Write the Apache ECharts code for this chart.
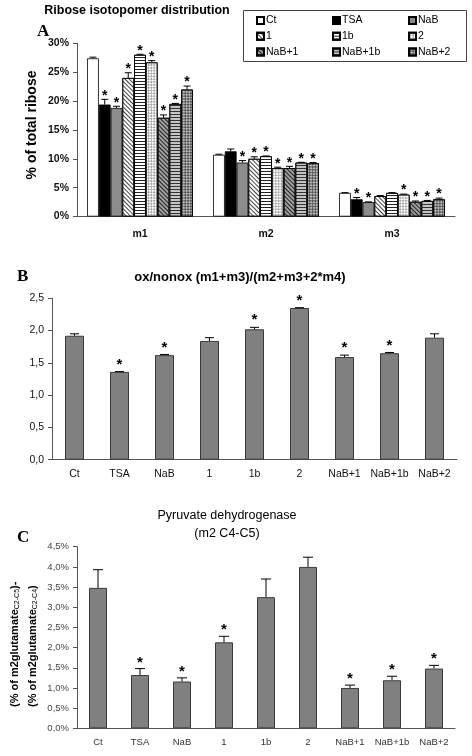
<!DOCTYPE html>
<html><head><meta charset="utf-8">
<script src="https://cdn.jsdelivr.net/npm/echarts@6/dist/echarts.min.js"></script>
<style>html,body{margin:0;padding:0;background:#fff}#c{width:472px;height:756px}</style>
</head><body><div id="c"></div>
<script>
// ---------- DATA ----------
const conditions = ['Ct','TSA','NaB','1','1b','2','NaB+1','NaB+1b','NaB+2'];
// Panel A: ribose isotopomers (% of total ribose), per condition [m1, m2, m3]
const ribCats = ['m1','m2','m3'];
const ribCt     = [27.4, 10.7, 4.1];
const ribTSA    = [19.4, 11.3, 3.0];
const ribNaB    = [18.8, 9.35, 2.5];
const rib1      = [24.0, 10.0, 3.55];
const rib1b     = [28.0, 10.45, 4.1];
const rib2      = [26.7, 8.4, 3.8];
const ribNaB1   = [17.1, 8.4, 2.55];
const ribNaB1b  = [19.5, 9.35, 2.7];
const ribNaB2   = [22.0, 9.25, 3.0];
const errCt     = [0.2, 0.1, 0.05];
const errTSA    = [0.9, 0.4, 0.3];
const errNaB    = [0.3, 0.35, 0.05];
const err1      = [0.9, 0.35, 0.1];
const err1b     = [0.1, 0.05, 0.05];
const err2      = [0.3, 0.15, 0.1];
const errNaB1   = [0.5, 0.3, 0.15];
const errNaB1b  = [0.1, 0.05, 0.1];
const errNaB2   = [0.6, 0.1, 0.2];
const starM1 = [0,1,1,1,1,1,1,1,1];
const starM2 = [0,0,1,1,1,1,1,1,1];
const starM3 = [0,1,1,0,0,1,1,1,1];
const ribTicks = [0,5,10,15,20,25,30];
// Panel B: ox/nonox ratio
const oxVals  = [1.92, 1.36, 1.62, 1.84, 2.02, 2.35, 1.59, 1.65, 1.89];
const oxErr   = [0.03, 0.005, 0.01, 0.05, 0.03, 0.005, 0.03, 0.01, 0.06];
const oxStar  = [0,1,1,0,1,1,1,1,0];
const oxTicks = [0,0.5,1,1.5,2,2.5];
// Panel C: pyruvate dehydrogenase (%)
const pdhVals = [3.48, 1.32, 1.16, 2.13, 3.25, 4.0, 1.0, 1.19, 1.48];
const pdhErr  = [0.45, 0.16, 0.09, 0.15, 0.45, 0.24, 0.07, 0.1, 0.08];
const pdhStar = [0,1,1,1,0,0,1,1,1];
const pdhTicks = [0,0.5,1,1.5,2,2.5,3,3.5,4,4.5];

// ---------- BUILD ----------
const ribVals = [ribCt, ribTSA, ribNaB, rib1, rib1b, rib2, ribNaB1, ribNaB1b, ribNaB2];
const ribErrs = [errCt, errTSA, errNaB, err1, err1b, err2, errNaB1, errNaB1b, errNaB2];
const ribStars = [starM1, starM2, starM3];

const FONT = "'Liberation Sans', Arial, sans-serif";
const diagBack = Math.PI/4;
const styles = [
  {color:'#ffffff'},
  {color:'#000000'},
  {color:'#8c8c8c'},
  {color:'#ffffff', decal:{symbol:'rect',symbolSize:1,dashArrayX:[1,0],dashArrayY:[1,2],rotation:diagBack,color:'#444'}},
  {color:'#ffffff', decal:{symbol:'rect',symbolSize:1,dashArrayX:[1,0],dashArrayY:[1,2],rotation:0,color:'#222'}},
  {color:'#ffffff', decal:{symbol:'rect',symbolSize:1,dashArrayX:[[2,2],[0,2,2,0]],dashArrayY:[2,0],rotation:Math.PI/4,color:'#a8a8a8'}},
  {color:'#a0a0a0', decal:{symbol:'rect',symbolSize:1,dashArrayX:[1,0],dashArrayY:[1,2],rotation:diagBack,color:'#222'}},
  {color:'#c4c4c4', decal:{symbol:'rect',symbolSize:1,dashArrayX:[1,0],dashArrayY:[1,2],rotation:0,color:'#333'}},
  {color:'#b8b8b8', decal:{symbol:'rect',symbolSize:1,dashArrayX:[[2,2],[0,2,2,0]],dashArrayY:[2,0],rotation:Math.PI/4,color:'#505050'}}
];
const GAP = 0.16;

const series = [];
conditions.forEach((name, si) => {
  series.push({
    type:'bar', name, xAxisIndex:0, yAxisIndex:0,
    data: ribVals[si], barGap:'0%', barCategoryGap:(GAP*100)+'%',
    itemStyle: Object.assign({borderColor:'#000', borderWidth:0.8}, styles[si]),
    silent:true
  });
});
conditions.forEach((name, si) => {
  series.push({
    type:'custom', xAxisIndex:0, yAxisIndex:0, z:5, silent:true,
    data: ribCats.map((c,k)=>[k, ribVals[si][k], ribErrs[si][k], ribStars[k][si]]),
    renderItem(params, api){
      const k = api.value(0), v = api.value(1), e = api.value(2), s = api.value(3);
      const band = api.size([1,0])[0];
      const total = band*(1-GAP);
      const bw = total/9;
      const base = api.coord([k, 0]);
      const cx = base[0] - total/2 + bw*(si+0.5);
      const top = api.coord([k, v])[1];
      const et = api.coord([k, v+e])[1];
      const ch = [
        {type:'line', shape:{x1:cx,y1:top,x2:cx,y2:et}, style:{stroke:'#000',lineWidth:1}},
        {type:'line', shape:{x1:cx-3.5,y1:et,x2:cx+3.5,y2:et}, style:{stroke:'#000',lineWidth:1}}
      ];
      if (s) ch.push({type:'text', x:cx, y:et-3.5, style:{text:'*', font:'bold 14px '+FONT, fill:'#000', align:'center', verticalAlign:'middle'}});
      return {type:'group', children:ch};
    }
  });
});

function singlePanel(idx, vals, errs, stars, bw, cap, gapStar){
  series.push({
    type:'bar', name:'p'+idx, xAxisIndex:idx, yAxisIndex:idx, data:vals, barWidth:bw, silent:true,
    itemStyle:{color:'#808080', borderColor:'#3a3a3a', borderWidth:1}
  });
  series.push({
    type:'custom', xAxisIndex:idx, yAxisIndex:idx, z:5, silent:true,
    data: conditions.map((c,k)=>[k, vals[k], errs[k], stars[k]]),
    renderItem(params, api){
      const k = api.value(0), v = api.value(1), e = api.value(2), s = api.value(3);
      const p = api.coord([k, v]);
      const et = api.coord([k, v+e])[1];
      const ch = [
        {type:'line', shape:{x1:p[0],y1:p[1],x2:p[0],y2:et}, style:{stroke:'#000',lineWidth:1}},
        {type:'line', shape:{x1:p[0]-cap/2,y1:et,x2:p[0]+cap/2,y2:et}, style:{stroke:'#000',lineWidth:1}}
      ];
      if (s) ch.push({type:'text', x:p[0], y:et-gapStar, style:{text:'*', font:'bold 15px '+FONT, fill:'#000', align:'center', verticalAlign:'middle'}});
      return {type:'group', children:ch};
    }
  });
}
singlePanel(1, oxVals, oxErr, oxStar, 19, 9, 7);
singlePanel(2, pdhVals, pdhErr, pdhStar, 18, 10, 6);

const comma = v => String(v.toFixed(1)).replace('.', ',');
const axisLine = {lineStyle:{color:'#555', width:1}};

const legendCols = [[0,3,6],[1,4,7],[2,5,8]];
const legendX = [251, 327, 403];
const legends = legendCols.map((col, i) => ({
  data: col.map(j => conditions[j]), orient:'vertical', left:legendX[i], top:10,
  itemWidth:7, itemHeight:7, itemGap:4.7, selectedMode:false, icon:'rect',
  textStyle:{fontSize:10.5, fontFamily:FONT, color:'#000', padding:[0,0,0,-3]}
}));

const option = {
  animation:false,
  backgroundColor:'#fff',
  legend: legends,
  grid:[
    {left:77, top:43.3, width:378, height:173.3},
    {left:52, top:298.3, width:405, height:161.4},
    {left:77, top:546.7, width:378, height:181.6}
  ],
  xAxis:[
    {type:'category', gridIndex:0, data:ribCats, axisLine, axisTick:{lineStyle:{color:'#555'}, length:5},
     axisLabel:{fontSize:10.5, fontWeight:'bold', color:'#111', fontFamily:FONT, margin:12}},
    {type:'category', gridIndex:1, data:conditions, axisLine, axisTick:{lineStyle:{color:'#555'}, length:4},
     axisLabel:{interval:0, fontSize:10.5, color:'#111', fontFamily:FONT, margin:9}},
    {type:'category', gridIndex:2, data:conditions, axisLine, axisTick:{lineStyle:{color:'#555'}, length:4},
     axisLabel:{interval:0, fontSize:9.5, color:'#333', fontFamily:FONT, margin:9}}
  ],
  yAxis:[
    {type:'value', gridIndex:0, min:ribTicks[0], max:ribTicks[ribTicks.length-1], interval:ribTicks[1]-ribTicks[0],
     splitLine:{show:false}, axisLine:{show:true, lineStyle:{color:'#555'}}, axisTick:{show:true, lineStyle:{color:'#555'}, length:4},
     axisLabel:{formatter:'{value}%', fontSize:10.5, fontWeight:'bold', color:'#111', fontFamily:FONT, margin:8}},
    {type:'value', gridIndex:1, min:oxTicks[0], max:oxTicks[oxTicks.length-1], interval:oxTicks[1]-oxTicks[0],
     splitLine:{show:false}, axisLine:{show:true, lineStyle:{color:'#555'}}, axisTick:{show:true, lineStyle:{color:'#555'}, length:4},
     axisLabel:{formatter:v=>comma(v), fontSize:10.5, color:'#111', fontFamily:FONT, margin:8}},
    {type:'value', gridIndex:2, min:pdhTicks[0], max:pdhTicks[pdhTicks.length-1], interval:pdhTicks[1]-pdhTicks[0],
     splitLine:{show:false}, axisLine:{show:true, lineStyle:{color:'#555'}}, axisTick:{show:true, lineStyle:{color:'#555'}, length:4},
     axisLabel:{formatter:v=>comma(v)+'%', fontSize:9.5, color:'#444', fontFamily:FONT, margin:8}}
  ],
  graphic:[
    {type:'text', x:137, y:11, style:{text:'Ribose isotopomer distribution', font:'bold 12.5px '+FONT, fill:'#000', align:'center', verticalAlign:'middle'}},
    {type:'text', x:37, y:32, style:{text:'A', font:"bold 17px 'Liberation Serif', serif", fill:'#000', align:'left', verticalAlign:'middle'}},
    {type:'rect', shape:{x:243.5, y:10.5, width:223, height:51}, style:{fill:'none', stroke:'#444', lineWidth:1}},
    {type:'text', x:32, y:125, rotation:Math.PI/2, style:{text:'% of total ribose', font:'bold 14px '+FONT, fill:'#000', align:'center', verticalAlign:'middle'}},
    {type:'text', x:17, y:277, style:{text:'B', font:"bold 17px 'Liberation Serif', serif", fill:'#000', align:'left', verticalAlign:'middle'}},
    {type:'text', x:240, y:277, style:{text:'ox/nonox (m1+m3)/(m2+m3+2*m4)', font:'bold 13px '+FONT, fill:'#000', align:'center', verticalAlign:'middle'}},
    {type:'text', x:17, y:538, style:{text:'C', font:"bold 17px 'Liberation Serif', serif", fill:'#000', align:'left', verticalAlign:'middle'}},
    {type:'text', x:227, y:516, style:{text:'Pyruvate dehydrogenase', font:'12.5px '+FONT, fill:'#000', align:'center', verticalAlign:'middle'}},
    {type:'text', x:227, y:534, style:{text:'(m2 C4-C5)', font:'12.5px '+FONT, fill:'#000', align:'center', verticalAlign:'middle'}},
    {type:'text', x:15, y:707, rotation:Math.PI/2, style:{text:'(% of m2glutamate{s|C2-C5})-', font:'bold 11px '+FONT, fill:'#000', align:'left', verticalAlign:'middle',
      rich:{s:{fontSize:7, fontFamily:FONT, fontWeight:'normal', verticalAlign:'bottom', padding:[4,0,0,0]}}}},
    {type:'text', x:33, y:707, rotation:Math.PI/2, style:{text:'(% of m2glutamate{s|C2-C4})', font:'bold 11px '+FONT, fill:'#000', align:'left', verticalAlign:'middle',
      rich:{s:{fontSize:7, fontFamily:FONT, fontWeight:'normal', verticalAlign:'bottom', padding:[4,0,0,0]}}}}
  ],
  series
};
const chart = echarts.init(document.getElementById('c'), null, {renderer:'canvas'});
chart.setOption(option);
</script></body></html>
